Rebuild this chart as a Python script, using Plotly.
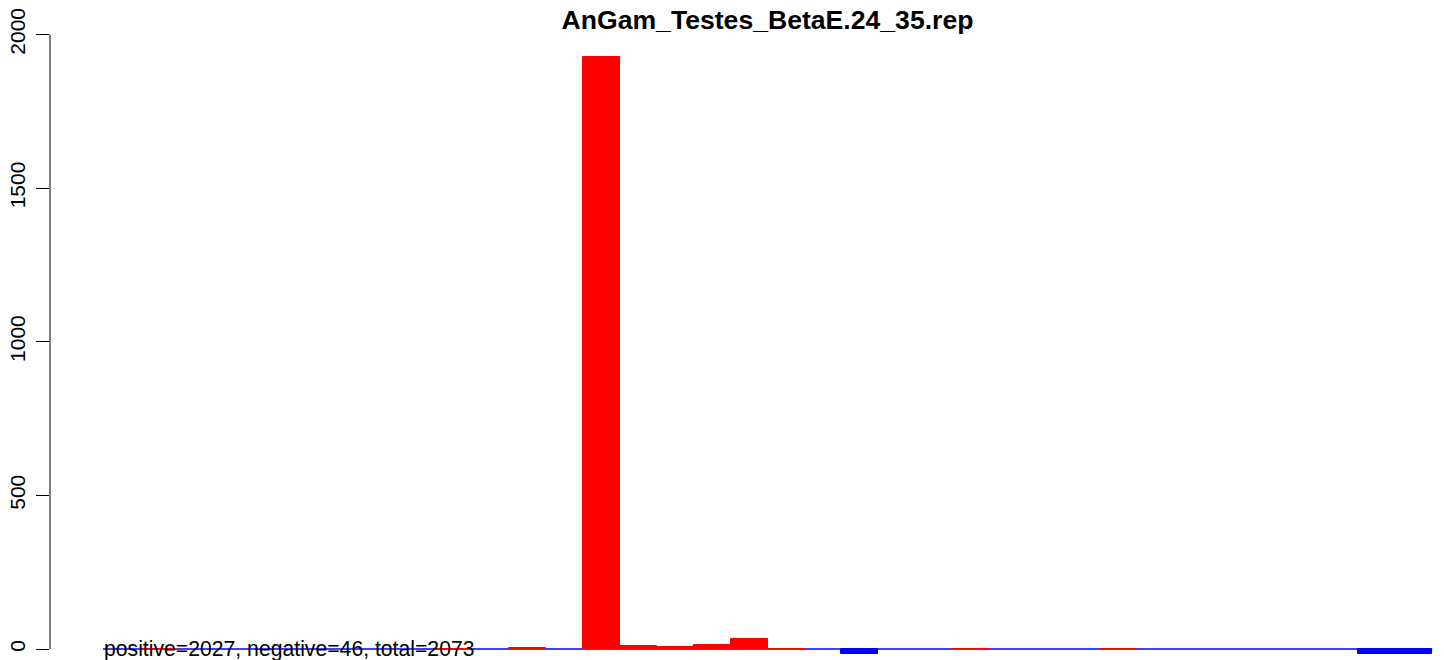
import plotly.graph_objects as go

# barras del reporte (36 posiciones)
n_bins = 36
pos_idx = [1, 9, 11, 13, 14, 15, 16, 17, 18, 23, 27]
pos_val = [1, 1, 4, 1928, 10, 5, 13, 33, 1, 1, 1]
neg_idx = [20, 34, 35]
neg_val = [-16, -15, -15]
y_ticks = [0, 500, 1000, 1500, 2000]

titulo = 'AnGam_Testes_BetaE.24_35.rep'
resumen = 'positive=2027, negative=46, total=2073'

fuente = 'Liberation Sans, Arial'

fig = go.Figure()

fig.add_trace(go.Bar(
    x=pos_idx, y=pos_val, width=1,
    marker=dict(color='#FF0000', line=dict(color='#FF0000', width=1)),
    showlegend=False
))
fig.add_trace(go.Bar(
    x=neg_idx, y=neg_val, width=1,
    marker=dict(color='#0000FF', line=dict(color='#0000FF', width=1)),
    showlegend=False
))

# linea base azul
fig.add_shape(type='line', xref='x', yref='y',
              x0=-0.5, x1=n_bins - 0.5, y0=0, y1=0,
              line=dict(color='#0000FF', width=1.5), layer='below')

# eje y estilo R (solo entre 0 y 2000)
fig.add_shape(type='line', xref='paper', yref='y',
              x0=0, x1=0, y0=y_ticks[0], y1=y_ticks[-1],
              line=dict(color='black', width=1))

fig.add_annotation(
    x=-0.5, y=0, xref='x', yref='y',
    text=resumen, showarrow=False,
    xanchor='left', yanchor='middle', borderpad=0,
    font=dict(family=fuente, size=21.2, color='black')
)

# el body del html tiene 8px de margen, por eso 1436x652
fig.update_layout(
    width=1436, height=652,
    margin=dict(l=42, r=0, t=12, b=0, autoexpand=False),
    paper_bgcolor='white', plot_bgcolor='white',
    barmode='overlay', bargap=0,
    title=dict(text='<b>' + titulo + '</b>', x=759.5 / 1436, xref='container',
               y=1 - 12 / 652, yref='container', xanchor='center', yanchor='middle',
               font=dict(family=fuente, size=26.6, color='black')),
    xaxis=dict(range=[-1.9355, 35.82], visible=False, showgrid=False, zeroline=False,
               automargin=False),
    yaxis=dict(range=[-35.8, 2047.2], tickvals=y_ticks, ticks='outside', ticklen=13,
               tickcolor='black', tickangle=-90, showgrid=False, zeroline=False,
               showline=False, ticklabelstandoff=3, automargin=False,
               ticklabeloverflow='allow',
               tickfont=dict(family=fuente, size=21, color='black')),
    font=dict(family=fuente)
)

fig.write_html('out.html')
